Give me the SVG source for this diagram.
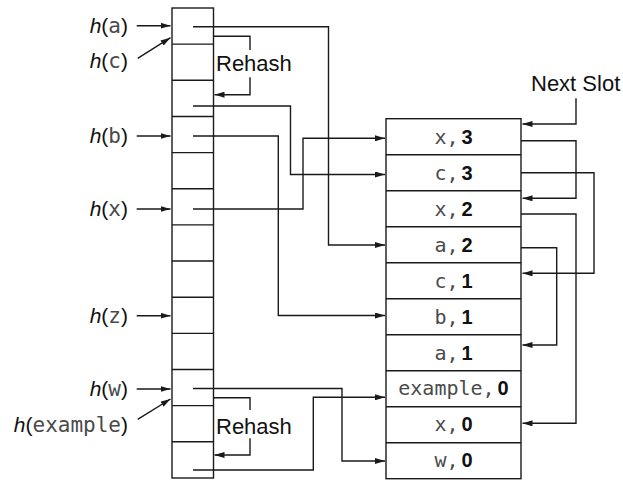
<svg xmlns="http://www.w3.org/2000/svg" width="623" height="480" viewBox="0 0 623 480">
<style>
.box{fill:#fff;stroke:#1a1a1a;stroke-width:1.4}
.div{stroke:#1a1a1a;stroke-width:1.4}
.c{fill:none;stroke:#1a1a1a;stroke-width:1.4}
.a{marker-end:url(#ah)}
.lab{font-family:"Liberation Sans",Arial,sans-serif;font-size:21px;fill:#111;text-anchor:end}
.h{font-style:italic}
.m{font-family:"DejaVu Sans Mono","Liberation Mono",monospace;fill:#4a4a4a}
.lab .m{font-size:21px}
.cell{font-family:"Liberation Sans",Arial,sans-serif;text-anchor:middle;fill:#111}
.cell .m{font-size:20px}
.d{font-family:"Liberation Sans",Arial,sans-serif;font-size:20px;font-weight:bold;fill:#111}
.t{font-family:"Liberation Sans",Arial,sans-serif;font-size:22px;fill:#111}
</style>
<defs>
<marker id="ah" markerUnits="userSpaceOnUse" markerWidth="10" markerHeight="6" refX="10" refY="3" orient="auto">
<path d="M0,0 L10,3 L0,6 z" fill="#1a1a1a"/>
</marker>
</defs>
<rect width="623" height="480" fill="#fff"/>

<g id="hash-table">
<rect class="box" x="172" y="8" width="41.5" height="470"/>
<path class="div" d="M172,44.15H213.5M172,80.3H213.5M172,116.45H213.5M172,152.6H213.5M172,188.75H213.5M172,224.9H213.5M172,261.05H213.5M172,297.2H213.5M172,333.35H213.5M172,369.5H213.5M172,405.65H213.5M172,441.8H213.5"/>
</g>

<g id="slot-table">
<rect class="box" x="386" y="118.7" width="135" height="360"/>
<path class="div" d="M386,154.7H521M386,190.7H521M386,226.7H521M386,262.7H521M386,298.7H521M386,334.7H521M386,370.7H521M386,406.7H521M386,442.7H521"/>
</g>

<g id="slot-x3"><text class="cell" x="453.5" y="143.7"><tspan class="m">x,</tspan><tspan class="d" dx="3">3</tspan></text></g>
<g id="slot-c3"><text class="cell" x="453.5" y="179.7"><tspan class="m">c,</tspan><tspan class="d" dx="3">3</tspan></text></g>
<g id="slot-x2"><text class="cell" x="453.5" y="215.7"><tspan class="m">x,</tspan><tspan class="d" dx="3">2</tspan></text></g>
<g id="slot-a2"><text class="cell" x="453.5" y="251.7"><tspan class="m">a,</tspan><tspan class="d" dx="3">2</tspan></text></g>
<g id="slot-c1"><text class="cell" x="453.5" y="287.7"><tspan class="m">c,</tspan><tspan class="d" dx="3">1</tspan></text></g>
<g id="slot-b1"><text class="cell" x="453.5" y="323.7"><tspan class="m">b,</tspan><tspan class="d" dx="3">1</tspan></text></g>
<g id="slot-a1"><text class="cell" x="453.5" y="359.7"><tspan class="m">a,</tspan><tspan class="d" dx="3">1</tspan></text></g>
<g id="slot-example0"><text class="cell" x="453.5" y="395.2"><tspan class="m">example,</tspan><tspan class="d" dx="3">0</tspan></text></g>
<g id="slot-x0"><text class="cell" x="453.5" y="431.2"><tspan class="m">x,</tspan><tspan class="d" dx="3">0</tspan></text></g>
<g id="slot-w0"><text class="cell" x="453.5" y="467.2"><tspan class="m">w,</tspan><tspan class="d" dx="3">0</tspan></text></g>

<g id="label-ha"><text class="lab" x="128" y="32.7"><tspan class="h">h</tspan>(<tspan class="m">a</tspan>)</text></g>
<g id="label-hc"><text class="lab" x="128" y="68"><tspan class="h">h</tspan>(<tspan class="m">c</tspan>)</text></g>
<g id="label-hb"><text class="lab" x="128" y="142.5"><tspan class="h">h</tspan>(<tspan class="m">b</tspan>)</text></g>
<g id="label-hx"><text class="lab" x="128" y="216"><tspan class="h">h</tspan>(<tspan class="m">x</tspan>)</text></g>
<g id="label-hz"><text class="lab" x="128" y="322.7"><tspan class="h">h</tspan>(<tspan class="m">z</tspan>)</text></g>
<g id="label-hw"><text class="lab" x="128" y="396"><tspan class="h">h</tspan>(<tspan class="m">w</tspan>)</text></g>
<g id="label-hexample"><text class="lab" x="128" y="431.5"><tspan class="h">h</tspan>(<tspan class="m">example</tspan>)</text></g>

<g id="label-rehash1"><text class="t" x="216" y="71">Rehash</text></g>
<g id="label-rehash2"><text class="t" x="216" y="434">Rehash</text></g>
<g id="label-nextslot"><text class="t" x="531" y="90.7">Next Slot</text></g>

<g id="connectors">
<path class="c a" d="M136.7,25.7H170.5"/>
<path class="c a" d="M137.7,58.3L170.5,37.7"/>
<path class="c a" d="M136.7,136H170.5"/>
<path class="c a" d="M136.7,209H170.5"/>
<path class="c a" d="M136.7,315.7H170.5"/>
<path class="c a" d="M136.7,389H170.5"/>
<path class="c a" d="M137.7,419.3L170.5,399"/>

<path class="c a" d="M193,26.7H328.5V245H385"/>
<path class="c" d="M213.5,36.3H250V50"/>
<path class="c a" d="M250,77.3V94.7H214.5"/>
<path class="c a" d="M193,106H290.5V174.5H385"/>
<path class="c a" d="M193,136H278.3V315.5H385"/>
<path class="c a" d="M193,209H303V138.3H385"/>
<path class="c a" d="M193,388.5H342V461H385"/>
<path class="c" d="M213.5,397.7H250V410"/>
<path class="c a" d="M250,438.3V455H214.5"/>
<path class="c a" d="M193,470H313.3V397.3H385"/>

<path class="c a" d="M576,98.3V124H522.5"/>
<path class="c a" d="M521,140.7H576V198.3H522.5"/>
<path class="c a" d="M521,172.7H594V273.3H522.5"/>
<path class="c a" d="M521,214H576V423.3H522.5"/>
<path class="c a" d="M521,247.7H556.7V345H522.5"/>
</g>
</svg>
